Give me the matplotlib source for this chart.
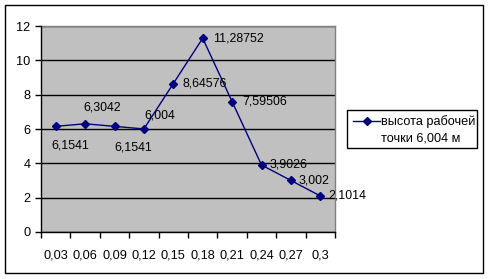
import matplotlib
matplotlib.use("Agg")
import matplotlib.pyplot as plt
from matplotlib.patches import Rectangle
from matplotlib.lines import Line2D

plt.rcParams['font.family'] = ['Liberation Sans', 'DejaVu Sans']

categories = ["0,03", "0,06", "0,09", "0,12", "0,15", "0,18", "0,21", "0,24", "0,27", "0,3"]
values = [6.1541, 6.3042, 6.1541, 6.004, 8.64576, 11.28752, 7.59506, 3.9026, 3.002, 2.1014]
value_labels = ["6,1541", "6,3042", "6,1541", "6,004", "8,64576", "11,28752",
                "7,59506", "3,9026", "3,002", "2,1014"]
y_ticks = [0, 2, 4, 6, 8, 10, 12]
series_name = "высота рабочей\nточки 6,004 м"

# label offsets in pixels (dx, dy) relative to the point
label_offsets = [(-4, -19), (-2, 16), (0, -21), (0, 13), (9, 0), (10, 0),
                 (10, 0), (8, 1), (8, 0), (8, 0)]

W, H = 490, 279
fig = plt.figure(figsize=(W / 100, H / 100), dpi=100)
fig.patch.set_facecolor('white')

def fx(x):
    return x / W

def fy(y):
    return 1 - y / H

L, R, T, B = 41, 335, 26, 232
ax = fig.add_axes([fx(L), fy(B), fx(R) - fx(L), fy(T) - fy(B)])
ax.set_facecolor('#C0C0C0')

navy = '#000080'
x = list(range(len(categories)))
ax.plot(x, values, color=navy, lw=1.0, marker='D', markersize=4.2,
        markerfacecolor=navy, markeredgecolor=navy, zorder=3, clip_on=False)

for xi, v, lab, (dx, dy) in zip(x, values, value_labels, label_offsets):
    ax.annotate(lab, (xi, v), xytext=(dx, dy), textcoords='offset pixels',
                ha='left', va='center', fontsize=8.9, color='black', zorder=4)

ax.set_xlim(-0.5, len(categories) - 0.5)
ax.set_ylim(0, 12)
ax.set_yticks(y_ticks)
ax.set_yticklabels([str(t) for t in y_ticks])
ax.yaxis.grid(True, color='black', lw=1.0)
ax.set_axisbelow(True)

ax.set_xticks([i - 0.5 for i in range(len(categories) + 1)])
ax.set_xticklabels([])
ax.set_xticks(x, minor=True)
ax.set_xticklabels(categories, minor=True)
ax.tick_params(axis='x', which='major', length=4, width=1, color='black', direction='out')
ax.tick_params(axis='x', which='minor', length=0, pad=12.5, labelsize=9.2)
ax.tick_params(axis='y', length=4, width=1, color='black', direction='out', pad=3.5, labelsize=9.2)

for s in ['top', 'right']:
    ax.spines[s].set_color('#808080')
    ax.spines[s].set_linewidth(1)
for s in ['left', 'bottom']:
    ax.spines[s].set_color('black')
    ax.spines[s].set_linewidth(1)
    ax.spines[s].set_zorder(5)

# outer chart border
fig.patches.append(Rectangle((fx(5), fy(273)), fx(483) - fx(5), fy(5) - fy(273),
                             transform=fig.transFigure, fill=False, edgecolor='black', lw=1.0))

# legend box
lx0, lx1, ly0, ly1 = 347, 477, 110, 148
fig.patches.append(Rectangle((fx(lx0), fy(ly1)), fx(lx1) - fx(lx0), fy(ly0) - fy(ly1),
                             transform=fig.transFigure, facecolor='white', edgecolor='black', lw=1.0))
fig.lines.append(Line2D([fx(353), fx(380)], [fy(121), fy(121)], transform=fig.transFigure,
                        color=navy, lw=1.0))
fig.lines.append(Line2D([fx(366.5)], [fy(121)], transform=fig.transFigure, color=navy,
                        marker='D', markersize=4.2, markerfacecolor=navy, markeredgecolor=navy))
fig.text(fx(381), fy(130), series_name, ha='left', va='center', fontsize=9.2,
         linespacing=1.45, transform=fig.transFigure)

fig.savefig('out.png', dpi=100)
